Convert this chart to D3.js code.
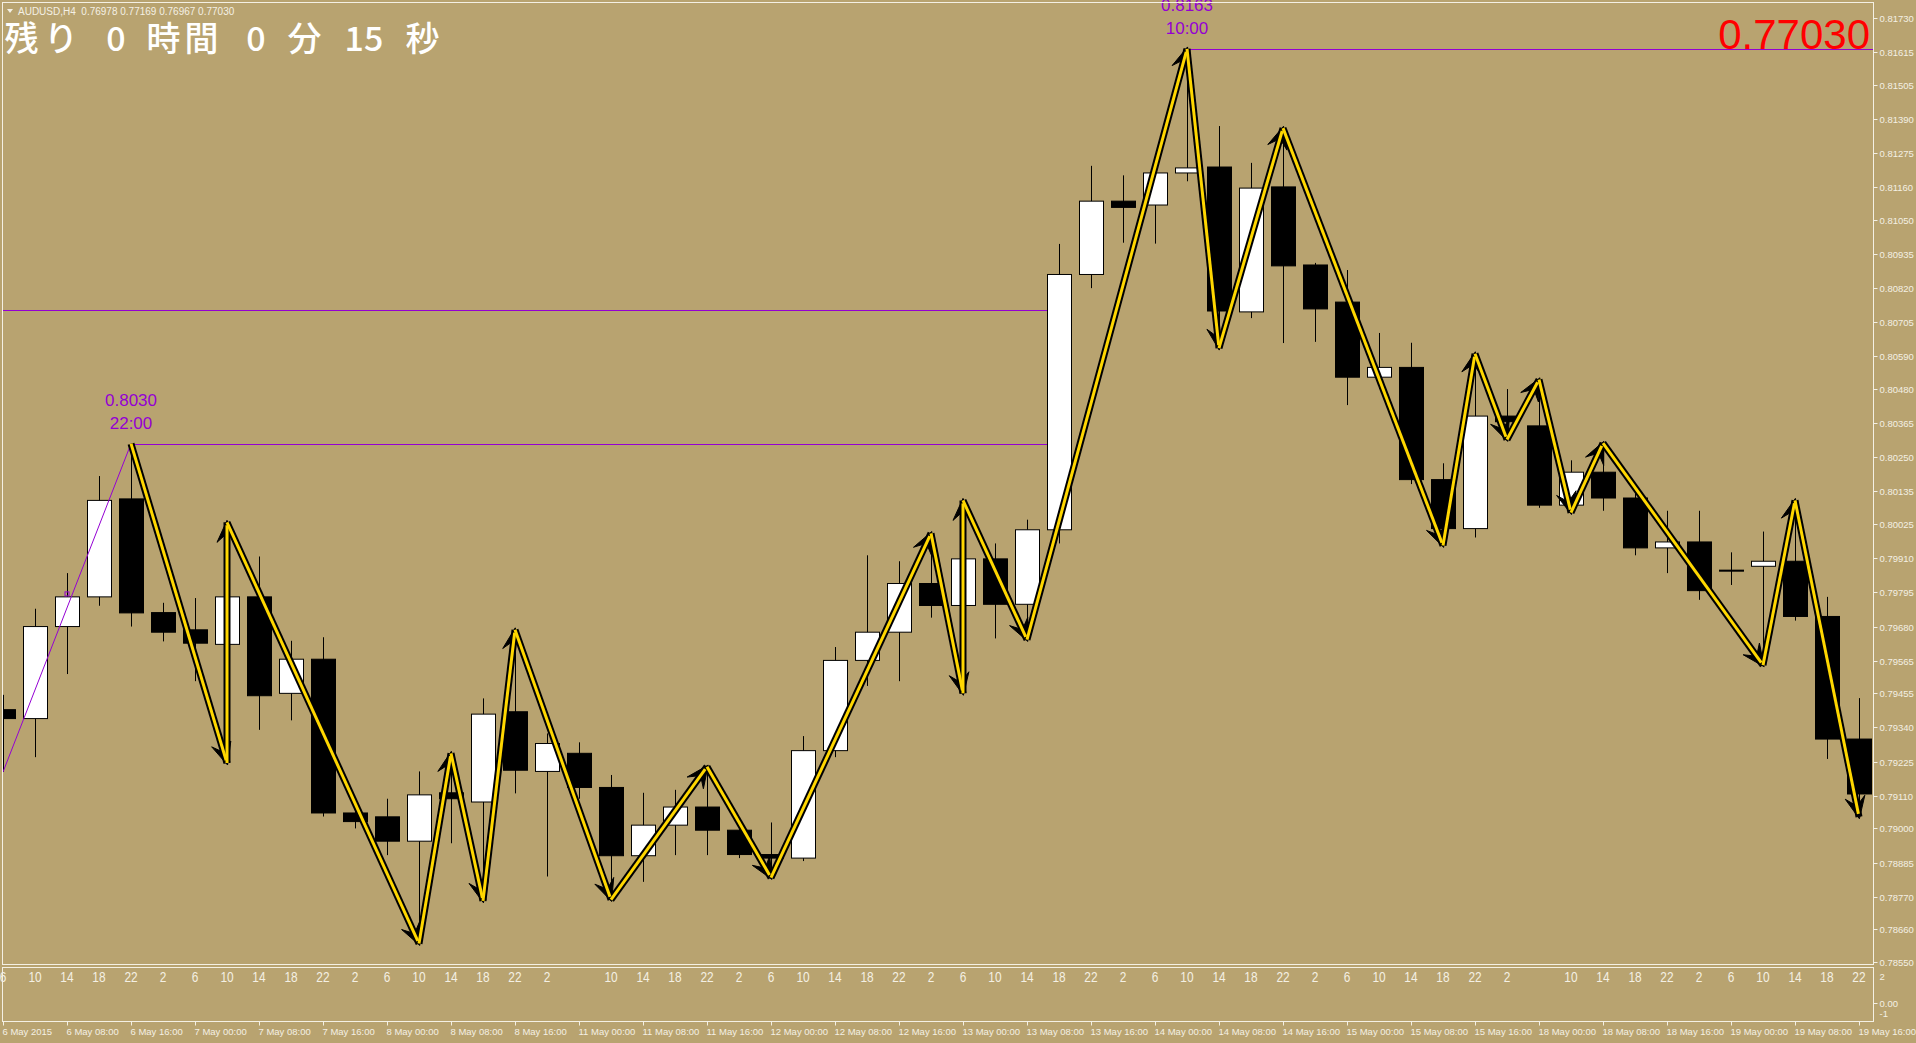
<!DOCTYPE html>
<html><head><meta charset="utf-8">
<script src="https://cdn.jsdelivr.net/npm/d3@7"></script>
<style>html,body{margin:0;padding:0;background:#B8A370;overflow:hidden}svg{display:block}</style>
</head><body><script>
// ---- data ----
const symbolTitle = "AUDUSD,H4  0.76978 0.77169 0.76967 0.77030";
const bidText = "0.77030";
const hourLabels = ["6","10","14","18","22","2","6","10","14","18","22","2","6","10","14","18","22","2",
  "","10","14","18","22","2","6","10","14","18","22","2","6","10","14","18","22","2","6","10","14","18","22","2",
  "6","10","14","18","22","2","","10","14","18","22","2","6","10","14","18","22"];
const open  = [0.7940,0.7937,0.7968,0.7978,0.8011,0.79727,0.79669,0.7962,0.7978,0.79455,0.7957,0.79052,0.79039,0.78957,0.7912,0.79089,0.79393,0.79192,0.79253,0.79138,0.78908,0.79011,0.79072,0.78994,0.78912,0.789,0.79262,0.79566,0.79661,0.79825,0.79751,0.79908,0.79755,0.80006,0.80866,0.81113,0.811,0.81208,0.81228,0.8074,0.81161,0.80898,0.80773,0.8052,0.80553,0.80175,0.8001,0.80389,0.80356,0.80089,0.802,0.80113,0.79945,0.79965,0.7987,0.79883,0.799,0.79714,0.79301];
const high  = [0.7945,0.7974,0.7986,0.80187,0.80296,0.7976,0.79776,0.80031,0.79916,0.79632,0.79644,0.791,0.791,0.79192,0.79253,0.79438,0.79669,0.7932,0.7929,0.7918,0.7912,0.7913,0.79208,0.7903,0.7902,0.79311,0.79611,0.7992,0.799,0.79994,0.80105,0.7996,0.8004,0.80969,0.81232,0.812,0.8122,0.81626,0.81366,0.81242,0.81359,0.80905,0.80881,0.80669,0.80636,0.8023,0.80599,0.8048,0.80512,0.8024,0.80298,0.8015,0.8007,0.8007,0.7993,0.8,0.80105,0.7978,0.79439];
const low   = [0.7919,0.7924,0.7952,0.7975,0.7968,0.7963,0.79496,0.7922,0.79332,0.79364,0.7904,0.79,0.7891,0.78612,0.7895,0.78756,0.79118,0.78838,0.791,0.7876,0.7882,0.7891,0.7891,0.789,0.78834,0.7889,0.7924,0.7948,0.79496,0.7971,0.79455,0.7964,0.79636,0.7996,0.8082,0.80973,0.8097,0.8118,0.80618,0.80719,0.80635,0.80639,0.80426,0.8048,0.8016,0.79953,0.7998,0.8031,0.8008,0.80064,0.8007,0.7992,0.7986,0.7977,0.7982,0.7955,0.797,0.79234,0.79039];
const close = [0.7937,0.7968,0.7978,0.80105,0.79726,0.79661,0.79624,0.7978,0.79447,0.7957,0.79052,0.79023,0.78957,0.79113,0.791,0.79385,0.79196,0.79286,0.79138,0.78908,0.79011,0.79072,0.78994,0.78912,0.789,0.79262,0.79566,0.79661,0.79825,0.79751,0.79908,0.79755,0.80006,0.80866,0.81113,0.81092,0.81208,0.81225,0.80743,0.81157,0.80895,0.8075,0.8052,0.80553,0.80175,0.8001,0.80389,0.8037,0.80089,0.802,0.80113,0.79945,0.79965,0.79801,0.79868,0.799,0.79714,0.79301,0.79116];
const priceTicks = ["0.81730","0.81615","0.81505","0.81390","0.81275","0.81160","0.81050","0.80935","0.80820","0.80705","0.80590","0.80480","0.80365","0.80250","0.80135","0.80025","0.79910","0.79795","0.79680","0.79565","0.79455","0.79340","0.79225","0.79110","0.79000","0.78885","0.78770","0.78660","0.78550"];
const dateTickBars = [0,2,4,6,8,10,12,14,16,18,20,22,24,26,28,30,32,34,36,38,40,42,44,46,48,50,52,54,56,58];
const dateTickLabels = ["6 May 2015","6 May 08:00","6 May 16:00","7 May 00:00","7 May 08:00","7 May 16:00","8 May 00:00","8 May 08:00","8 May 16:00","11 May 00:00","11 May 08:00","11 May 16:00","12 May 00:00","12 May 08:00","12 May 16:00","13 May 00:00","13 May 08:00","13 May 16:00","14 May 00:00","14 May 08:00","14 May 16:00","15 May 00:00","15 May 08:00","15 May 16:00","18 May 00:00","18 May 08:00","18 May 16:00","19 May 00:00","19 May 08:00","19 May 16:00"];
const zzBar   = [4,7,7,13,14,15,16,19,22,24,29,30,30,32,37,38,40,45,46,47,48,49,50,55,56,58];
const zzPrice = [0.80296,0.7922,0.80031,0.78612,0.79253,0.78756,0.79669,0.7876,0.79208,0.78834,0.79994,0.79455,0.80105,0.79636,0.81626,0.80618,0.81359,0.79953,0.80599,0.8031,0.80512,0.80064,0.80298,0.7955,0.80105,0.79039];
// purple level lines: [startBar, endBar, price]
const levelStart = [-1, 4, 37];
const levelEnd   = [33, 33, 60];
const levelPrice = [0.80746, 0.80296, 0.81626];
const peakLabelBar   = [4, 37];
const peakLabelPrice = ["0.8030", "0.8163"];
const peakLabelTime  = ["22:00", "10:00"];
const timerParts = ["残","り","0","時","間","0","分","15","秒"];
const timerX     = [21.5,61,116,163.5,201.5,256,304.5,364,422.5];
const subLabels  = ["2", "0.00", "-1"];
const subLabelY  = [976, 1003, 1013];

// ---- chart ----
const W = 1916, H = 1043;
const plotL = 2.5, plotR = 1873.5, plotT = 2.5, plotB = 964.5;
const subT = 967.5, subB = 1021.5;
const BG = "#B8A370", FG = "#F4F0E4", PURPLE = "#9400D3";
const AXF = "Liberation Sans, Arial, sans-serif";
const svg = d3.select("body").append("svg").attr("width", W).attr("height", H);
svg.append("rect").attr("width", W).attr("height", H).attr("fill", BG);

const x = d3.scaleLinear().domain([0, 58]).range([3, 3 + 58 * 32]);
const y = d3.scaleLinear().domain([0.78550, 0.81730]).range([962, 18]);

svg.append("clipPath").attr("id", "clip").append("rect")
  .attr("x", plotL).attr("y", plotT).attr("width", plotR - plotL).attr("height", plotB - plotT);
const g = svg.append("g").attr("clip-path", "url(#clip)");

// level lines
levelPrice.forEach((p, i) => {
  const x1 = levelStart[i] < 0 ? 0 : x(levelStart[i]);
  const x2 = levelEnd[i] > 58 ? plotR : x(levelEnd[i]) - 12;
  g.append("line").attr("x1", x1).attr("x2", x2).attr("y1", Math.round(y(p)) + 0.5).attr("y2", Math.round(y(p)) + 0.5)
    .attr("stroke", PURPLE).attr("stroke-width", 1);
});

// candles
const bars = d3.range(open.length);
const cg = g.append("g");
cg.selectAll("line.wick").data(bars).join("line").attr("class", "wick")
  .attr("x1", i => Math.round(x(i)) + 0.5).attr("x2", i => Math.round(x(i)) + 0.5)
  .attr("y1", i => y(high[i])).attr("y2", i => y(low[i]))
  .attr("stroke", "#000").attr("stroke-width", 1);
cg.selectAll("rect.body").data(bars).join("rect").attr("class", "body")
  .attr("x", i => Math.round(x(i)) - 11.5)
  .attr("width", 24)
  .attr("y", i => Math.min(y(open[i]), y(close[i])))
  .attr("height", i => Math.max(1, Math.abs(y(open[i]) - y(close[i]))))
  .attr("fill", i => close[i] > open[i] ? "#fff" : "#000")
  .attr("stroke", "#000").attr("stroke-width", 1);

// purple diagonal (first leg) and small marker
g.append("line").attr("x1", x(0)).attr("y1", y(low[0])).attr("x2", x(4)).attr("y2", y(high[4]))
  .attr("stroke", PURPLE).attr("stroke-width", 1);
g.append("rect").attr("x", x(2) - 2).attr("y", y(0.7979) - 2).attr("width", 4).attr("height", 4)
  .attr("fill", "none").attr("stroke", PURPLE).attr("stroke-width", 1);

// zigzag arrows
const pts = zzBar.map((b, i) => [x(b), y(zzPrice[i])]);
const zg = g.append("g");
const segs = d3.range(pts.length - 1).map(i => [pts[i], pts[i + 1]]);
zg.selectAll("line.zb").data(segs).join("line").attr("class", "zb")
  .attr("x1", d => d[0][0]).attr("y1", d => d[0][1]).attr("x2", d => d[1][0]).attr("y2", d => d[1][1])
  .attr("stroke", "#000").attr("stroke-width", 7).attr("stroke-linecap", "butt");
function headPath(d) {
  const [a, b] = d; const dx = b[0] - a[0], dy = b[1] - a[1];
  const len = Math.hypot(dx, dy) || 1; const ux = dx / len, uy = dy / len; const nx = -uy, ny = ux;
  const L = 20, Wd = 10, N = 11;
  const tip = [b[0] + ux * 2, b[1] + uy * 2];
  const p1 = [b[0] - ux * L + nx * Wd, b[1] - uy * L + ny * Wd];
  const p2 = [b[0] - ux * N, b[1] - uy * N];
  const p3 = [b[0] - ux * L - nx * Wd, b[1] - uy * L - ny * Wd];
  return `M${tip}L${p1}L${p2}L${p3}Z`;
}
zg.selectAll("path.head").data(segs).join("path").attr("class", "head")
  .attr("d", headPath).attr("fill", "#000").attr("stroke", "#000").attr("stroke-width", 1);
zg.selectAll("line.zy").data(segs).join("line").attr("class", "zy")
  .attr("x1", d => d[0][0]).attr("y1", d => d[0][1])
  .attr("x2", d => { const l = Math.hypot(d[1][0]-d[0][0], d[1][1]-d[0][1]) || 1; return d[1][0] - (d[1][0]-d[0][0]) / l * 3; })
  .attr("y2", d => { const l = Math.hypot(d[1][0]-d[0][0], d[1][1]-d[0][1]) || 1; return d[1][1] - (d[1][1]-d[0][1]) / l * 3; })
  .attr("stroke", "#FFD700").attr("stroke-width", 3);

// peak labels
peakLabelBar.forEach((b, i) => {
  const py = y(high[b]);
  svg.append("text").attr("x", x(b)).attr("y", py - 38).attr("text-anchor", "middle")
    .attr("font-family", AXF).attr("font-size", 17).attr("fill", PURPLE).text(peakLabelPrice[i]);
  svg.append("text").attr("x", x(b)).attr("y", py - 15).attr("text-anchor", "middle")
    .attr("font-family", AXF).attr("font-size", 17).attr("fill", PURPLE).text(peakLabelTime[i]);
});

// frames
svg.append("rect").attr("x", plotL).attr("y", plotT).attr("width", plotR - plotL).attr("height", plotB - plotT)
  .attr("fill", "none").attr("stroke", FG).attr("stroke-width", 1);
svg.append("rect").attr("x", plotL).attr("y", subT).attr("width", plotR - plotL).attr("height", subB - subT)
  .attr("fill", "none").attr("stroke", FG).attr("stroke-width", 1);

// price axis
const ax = svg.append("g");
priceTicks.forEach(t => {
  const yy = Math.round(y(+t)) + 0.5;
  ax.append("line").attr("x1", plotR).attr("x2", plotR + 4).attr("y1", yy).attr("y2", yy).attr("stroke", FG);
  ax.append("text").attr("x", plotR + 6).attr("y", yy + 3.5).attr("font-family", AXF)
    .attr("font-size", 9.5).attr("fill", FG).text(t);
});
// sub window axis
subLabels.forEach((t, i) => {
  ax.append("text").attr("x", plotR + 6).attr("y", subLabelY[i] + 3.5).attr("font-family", AXF)
    .attr("font-size", 9.5).attr("fill", FG).text(t);
});
ax.append("line").attr("x1", plotR).attr("x2", plotR + 4).attr("y1", 1003.5).attr("y2", 1003.5).attr("stroke", FG);

// hour labels in sub window
svg.append("g").selectAll("text").data(bars).join("text")
  .attr("x", i => x(i)).attr("y", 982).attr("text-anchor", "middle")
  .attr("font-family", AXF).attr("font-size", 14).attr("fill", FG)
  .attr("transform", i => `translate(${x(i)},0) scale(0.85,1) translate(${-x(i)},0)`)
  .text(i => hourLabels[i]);

// date axis
const dg = svg.append("g");
dateTickBars.forEach((b, i) => {
  const xx = Math.round(x(b)) + 0.5;
  dg.append("line").attr("x1", xx).attr("x2", xx).attr("y1", subB).attr("y2", subB + 4).attr("stroke", FG);
  dg.append("text").attr("x", xx - 1).attr("y", 1035).attr("font-family", AXF)
    .attr("font-size", 9.5).attr("fill", FG).text(dateTickLabels[i]);
});

// title
svg.append("path").attr("d", "M7,9 L13,9 L10,13 Z").attr("fill", FG);
svg.append("text").attr("x", 18).attr("y", 14.5).attr("font-family", AXF)
  .attr("font-size", 10).attr("fill", FG).attr("xml:space", "preserve").text(symbolTitle);

// timer
timerParts.forEach((t, i) => {
  svg.append("text").attr("x", timerX[i]).attr("y", 51).attr("text-anchor", "middle")
    .attr("font-family", "Noto Sans CJK JP, sans-serif").attr("font-weight", 500).attr("font-size", 34).attr("fill", "#fff").text(t);
});

// big bid text
svg.append("text").attr("x", 1870).attr("y", 49).attr("text-anchor", "end")
  .attr("font-family", AXF).attr("font-size", 42).attr("fill", "#FF0000").text(bidText);
</script></body></html>
